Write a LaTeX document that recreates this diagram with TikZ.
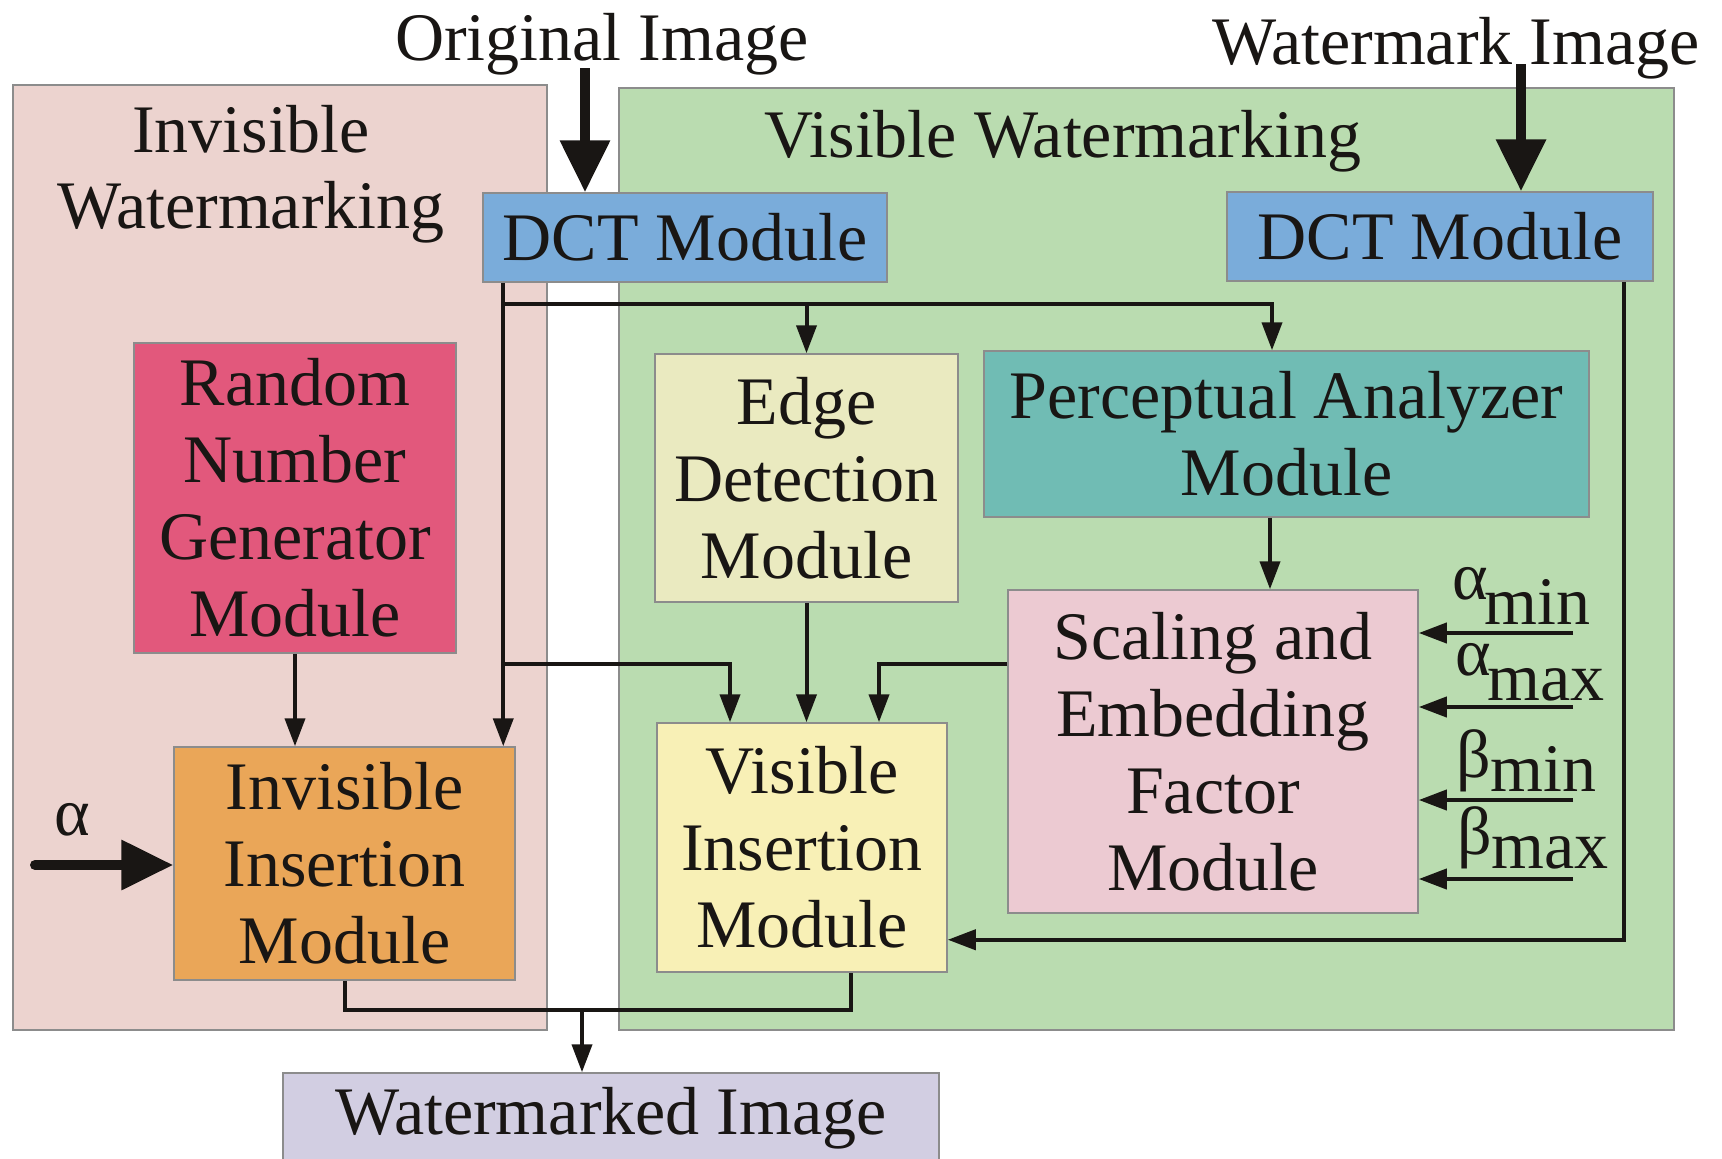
\documentclass[tikz,border=0pt]{standalone}
\usepackage{fontspec}
\setmainfont{Liberation Serif}
\usetikzlibrary{arrows.meta,calc}
\definecolor{invbg}{RGB}{236,211,207}
\definecolor{visbg}{RGB}{186,220,176}
\definecolor{dctblue}{RGB}{122,172,218}
\definecolor{rngred}{RGB}{226,88,124}
\definecolor{edgeyel}{RGB}{234,234,192}
\definecolor{percteal}{RGB}{112,188,180}
\definecolor{scalpink}{RGB}{236,202,210}
\definecolor{visyel}{RGB}{248,240,182}
\definecolor{invorange}{RGB}{234,166,88}
\definecolor{wmlav}{RGB}{210,206,226}
\definecolor{bordergray}{RGB}{140,140,140}
\definecolor{ink}{RGB}{25,22,20}
\newcommand\figfont{\fontsize{68}{77}\selectfont}
\begin{document}
\begin{tikzpicture}[x=1pt,y=-1pt,
  box/.style={draw=bordergray,line width=1.5pt,inner sep=0pt,align=center,font=\figfont,text=ink},
  lbl/.style={inner sep=0pt,font=\figfont,text=ink},
  conn/.style={draw=ink,line width=4pt},
  arr/.style={conn,-{Triangle[length=28pt,width=20pt]}},
  bigarr/.style={draw=ink,line width=10pt,-{Triangle[length=52pt,width=48pt]}},
]
\useasboundingbox (0,0) rectangle (1722,1159);
\fill[white] (0,0) rectangle (1722,1159);
% panels
\filldraw[fill=invbg,draw=bordergray,line width=1.5pt] (13,85) rectangle (547,1030);
\filldraw[fill=visbg,draw=bordergray,line width=1.5pt] (619,88) rectangle (1674,1030);
% titles
\node[lbl,anchor=base] (orig) at (602,60) {Original Image};
\node[lbl,anchor=base] (wmimg) at (1456,64) {Watermark Image};
\node[lbl,anchor=base] (invt1) at (251,152) {Invisible};
\node[lbl,anchor=base] (invt2) at (251,228) {Watermarking};
\node[lbl,anchor=base] (vist) at (1063,157) {Visible Watermarking};
% boxes
\node[box,fill=dctblue,minimum width=404pt,minimum height=89pt] (dct1) at (685,237.5) {DCT Module};
\node[box,fill=dctblue,minimum width=426pt,minimum height=89pt] (dct2) at (1440,236.5) {DCT Module};
\node[box,fill=rngred,minimum width=322pt,minimum height=310pt] (rng) at (295,498) {Random\\Number\\Generator\\Module};
\node[box,fill=edgeyel,minimum width=303pt,minimum height=248pt] (edge) at (806.5,478) {Edge\\Detection\\Module};
\node[box,fill=percteal,minimum width=605pt,minimum height=166pt] (perc) at (1286.5,434) {Perceptual Analyzer\\Module};
\node[box,fill=scalpink,minimum width=410pt,minimum height=323pt] (scal) at (1213,751.5) {Scaling and\\Embedding\\Factor\\Module};
\node[box,fill=visyel,minimum width=290pt,minimum height=249pt] (vis) at (802,847.5) {Visible\\Insertion\\Module};
\node[box,fill=invorange,minimum width=341pt,minimum height=233pt] (invins) at (344.5,863.5) {Invisible\\Insertion\\Module};
\node[box,fill=wmlav,minimum width=656pt,minimum height=90pt] (wm) at (611,1118) {Watermarked Image};
% parameter labels
\node[lbl,anchor=base west] (amin) at (1452,624) {\raisebox{25pt}{α}\kern-3pt min};
\node[lbl,anchor=base west] (amax) at (1455,700) {\raisebox{25pt}{α}\kern-3pt max};
\node[lbl,anchor=base west] (bmin) at (1456,791) {\raisebox{14pt}{β}min};
\node[lbl,anchor=base west] (bmax) at (1457,868) {\raisebox{14pt}{β}max};
\node[lbl,anchor=base] (alab) at (72,835) {α};
% coordinates
\coordinate (j1) at (504,304);
\coordinate (j2) at (504,664);
\coordinate (jb) at (582,1010);
\coordinate (oin) at (585,68);
\coordinate (win) at (1521,64);
\coordinate (ain) at (35,865);
\coordinate (in1) at (1573,633);
\coordinate (in2) at (1573,707);
\coordinate (in3) at (1573,800);
\coordinate (in4) at (1573,879);
% connectors
\draw[bigarr] (oin) -- (oin |- dct1.north);
\draw[bigarr] (win) -- (win |- dct2.north);
\draw[bigarr,line cap=round] (ain) -- (ain -| invins.west);
\draw[arr] ([xshift=21pt]dct1.south west) -- ([xshift=21pt]dct1.south west |- invins.north);
\draw[arr] (j1) -| ([xshift=-14.5pt]perc.north);
\draw[arr] (edge.north |- j1) -- (edge.north);
\draw[arr] (j2) -| ([xshift=-72pt]vis.north);
\draw[arr] (edge.south) -- (edge.south |- vis.north);
\draw[arr] (scal.west |- j2) -| ([xshift=77pt]vis.north);
\draw[arr] ([xshift=-16.5pt]perc.south) -- ([xshift=-16.5pt]perc.south |- scal.north);
\draw[arr] (rng.south) -- (rng.south |- invins.north);
\draw[arr] ([xshift=-30pt]dct2.south east) |- ([yshift=33pt]vis.south east);
\draw[arr] (in1) -- (in1 -| scal.east);
\draw[arr] (in2) -- (in2 -| scal.east);
\draw[arr] (in3) -- (in3 -| scal.east);
\draw[arr] (in4) -- (in4 -| scal.east);
\draw[conn] (invins.south) |- ([xshift=49pt]vis.south |- jb) -- ([xshift=49pt]vis.south);
\draw[arr] (jb) -- (jb |- wm.north);
\end{tikzpicture}
\end{document}
